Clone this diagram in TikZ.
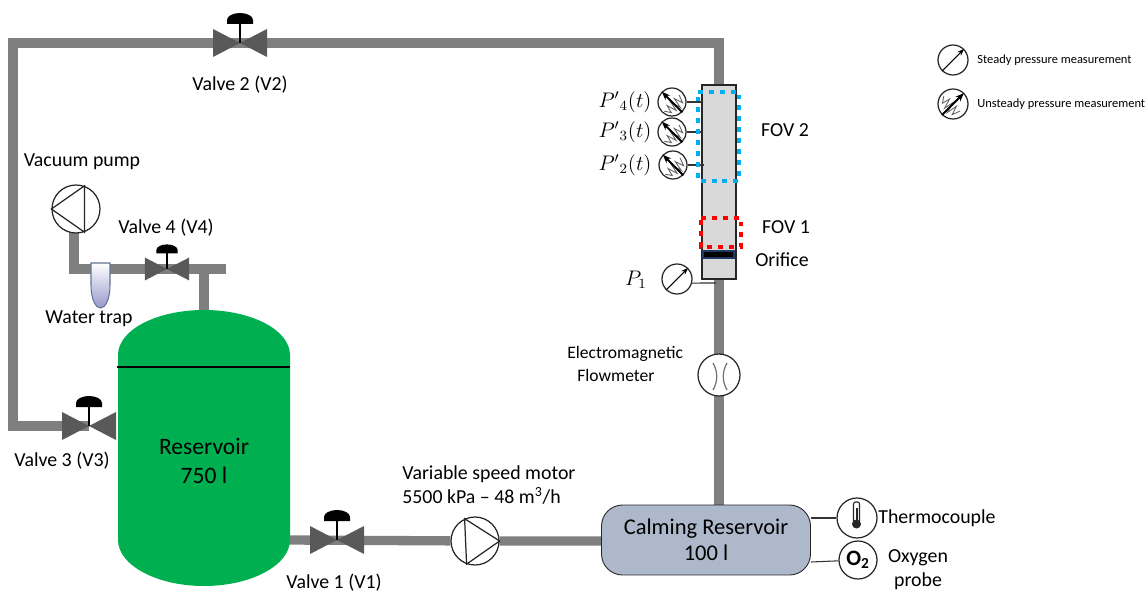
\documentclass[tikz,border=0pt]{standalone}
\usepackage{amsmath}
\usepackage{fontspec}
\setmainfont{Carlito}
\usetikzlibrary{arrows.meta,backgrounds}
\definecolor{pipegray}{HTML}{7F7F7F}
\definecolor{valvegray}{HTML}{595959}
\definecolor{tankgreen}{HTML}{00B050}
\definecolor{calmblue}{HTML}{ADB9CA}
\definecolor{colgray}{HTML}{D9D9D9}
\definecolor{fovblue}{HTML}{00AEEF}
\definecolor{oribord}{HTML}{1F3864}
\tikzset{
    pipe/.style={draw=pipegray, line width=5.3pt},
    tap/.style={draw=black!80, line width=0.6pt},
    label/.style={font=\fontsize{11.3}{13.6}\selectfont, inner sep=0pt, align=center},
    biglabel/.style={font=\fontsize{12.8}{14.7}\selectfont, inner sep=0pt, align=center},
    tanklabel/.style={font=\fontsize{13.4}{16.4}\selectfont, inner sep=0pt, align=center},
    smalllabel/.style={font=\fontsize{7.1}{8}\selectfont, inner sep=0pt, anchor=west},
    mathlabel/.style={font=\fontsize{11.5}{13}\selectfont, inner sep=0pt},
    dial/.style={circle, draw=black!85, fill=white, line width=0.7pt, inner sep=0pt, minimum size=#1*0.02cm},
    fov/.style={line width=2.8pt, dash pattern=on 2.8pt off 3.4pt},
    valve/.pic={
        \fill[valvegray] (-27,-14) -- (0,0) -- (-27,14) -- cycle;
        \fill[valvegray] (27,-14) -- (0,0) -- (27,14) -- cycle;
        \draw[black, line width=0.7pt] (0,0) -- (0,-20);
        \fill[black] (-13,-19) -- (13,-19) -- (13,-23) .. controls (13,-27) and (7,-30) .. (0,-30) .. controls (-7,-30) and (-13,-27) .. (-13,-23) -- cycle;
    },
    spikes/.pic={
        \draw[black!60, line width=0.5pt] (-12,1) -- (-8,7) -- (-6,-1) -- (-3,9) -- (-1,-1) -- (2,10) -- (4,-1) -- (7,8) -- (10,0);
    },
}

\begin{document}
\begin{tikzpicture}[x=0.02cm, y=-0.02cm]
    \useasboundingbox (0,0) rectangle (1148,594);

    \coordinate (cornerTL) at (13,43);
    \coordinate (cornerTR) at (719,43);
    \coordinate (cornerBL) at (13,426);
    \coordinate (cornerVac) at (74,269);
    \coordinate (stub) at (226,269);
    \coordinate (tankTop) at (204,312);
    \coordinate (tankRight) at (288,540);
    \coordinate (vOne) at (337,540);
    \coordinate (vTwo) at (240,43);
    \coordinate (vThree) at (89,426);
    \coordinate (vFour) at (167,269);

    \fill[tankgreen] (118,355) .. controls (118,330) and (156.5,310) .. (204,310) .. controls (251.5,310) and (290,330) .. (290,355) -- (290,540) .. controls (290,565) and (251.5,586) .. (204,586) .. controls (156.5,586) and (118,565) .. (118,540) -- cycle;
    \draw[black, line width=0.9pt] (117,367) -- (290,367);
    \node[tanklabel] (tank) at (204,461) {Reservoir\\750 l};

    \pic at (vOne) {valve};
    \pic at (vTwo) {valve};
    \pic at (vThree) {valve};
    \pic[scale=0.82] at (vFour) {valve};

    \node[dial=48] (pVar) at (475,541) {};
    \draw[black!85, line width=0.7pt] (pVar.115) -- (pVar.0) -- (pVar.-110) -- cycle;
    \node[dial=48] (pVac) at (76,209) {};
    \draw[black!85, line width=0.7pt] (pVac.180) -- (pVac.70) -- (pVac.-70) -- cycle;

    \draw[draw=oribord!70, top color=white, bottom color=blue!35!gray!60, line width=0.6pt] (91,263) -- (110,263) -- (110,285) .. controls (110,300) and (105,308) .. (100.5,308) .. controls (96,308) and (91,300) .. (91,285) -- cycle;

    \node[draw=black!85, fill=calmblue, rounded corners=0.42cm, minimum width=4.18cm, minimum height=1.4cm, line width=0.5pt, biglabel] (calm) at (706,540) {Calming Reservoir\\100 l};

    \node[draw=black!85, fill=colgray, line width=0.8pt, minimum width=0.68cm, minimum height=3.88cm, inner sep=0pt] (col) at (719,182) {};
    \node[draw=oribord, fill=black, line width=0.6pt, minimum width=0.62cm, minimum height=0.14cm, inner sep=0pt] (orifice) at (718.5,254.5) {};

    \node[dial=42] (flow) at (719,375) {};
    \draw[black!55, line width=0.7pt] (713,363) .. controls (718,372) and (718,381) .. (713,390);
    \draw[black!55, line width=0.7pt] (727,363) .. controls (722,372) and (722,381) .. (727,390);

    \node[dial=30] (gOne) at (677,279) {};
    \draw[-{Stealth[length=4pt]}, line width=0.6pt] (gOne.225) -- (gOne.45);
    \node[dial=30] (gLegA) at (953,60) {};
    \draw[-{Stealth[length=4pt]}, line width=0.6pt] (gLegA.225) -- (gLegA.45);
    \node[dial=30] (gLegB) at (953,104) {};
    \pic[rotate=-45] at (gLegB) {spikes};
    \draw[-{Stealth[length=5pt]}, line width=1.1pt] (gLegB.225) -- (gLegB.45);

    \foreach \name/\px/\py/\tx/\txt in {gFour/672/102/702/4, gThree/672/132/702/3, gTwo/673/165/704/2}
    {
        \node[dial=28] (\name) at (\px,\py) {};
        \pic[rotate=45] at (\name) {spikes};
        \draw[-{Stealth[length=5pt]}, line width=1.1pt] (\name.-45) -- (\name.135);
        \coordinate (t\name) at (\tx,\py);
        \draw[tap] (\name.east) -- (t\name);
        \node[mathlabel] (l\name) at (625,\py) {$P'{}_{\txt}(t)$};
    }

    \draw[fov, fovblue] (698,92) -- (739,92) -- (739,181) -- (698,181) -- cycle;
    \draw[fov, red] (701,218) -- (741,218) -- (741,247) -- (701,247) -- cycle;

    \coordinate (tOne) at (716,283);
    \draw[tap] (gOne.-15) -- (tOne);
    \node[mathlabel] (lOne) at (636,280) {$P_1$};

    \node[dial=40] (thermo) at (857,518) {};
    \draw[black!85, line width=0.6pt, rounded corners=0.04cm] (853.5,522) -- (853.5,502) -- (859.5,502) -- (859.5,522);
    \fill[black!85] (856.5,524) circle (4.5);
    \fill[black!85] (855.5,508) rectangle (857.5,522);
    \node[dial=38, font=\bfseries\fontsize{12.5}{14}\selectfont] (oxy) at (858,560) {O\textsubscript{2}};
    \coordinate (calmT) at (811,518);
    \coordinate (calmO) at (811,562);
    \draw[tap] (calmT) -- (thermo);
    \draw[tap] (calmO) -- (oxy);

    \node[label] (lVTwo) at (240,85) {Valve 2 (V2)};
    \node[label] (lVac) at (82,162) {Vacuum pump};
    \node[label] (lVFour) at (166,228) {Valve 4 (V4)};
    \node[label] (lTrap) at (89,319) {Water trap};
    \node[label] (lVThree) at (62,461) {Valve 3 (V3)};
    \node[label] (lVOne) at (334,583) {Valve 1 (V1)};
    \node[label, anchor=west, align=left] (lMotor) at (402,485) {Variable speed motor\\5500 kPa -- 48 m\textsuperscript{3}/h};
    \node[label, anchor=west, align=left, font=\fontsize{10}{13.6}\selectfont] (lFlow) at (567,364) {Electromagnetic\\\hspace*{5.7pt}Flowmeter};
    \node[label] (lFovTwo) at (785,130) {FOV 2};
    \node[label] (lFovOne) at (786,227) {FOV 1};
    \node[label] (lOri) at (782,260) {Orifice};
    \node[label, anchor=west] (lThermo) at (878,518) {Thermocouple};
    \node[label] (lOxy) at (918,570) {Oxygen\\probe};
    \node[smalllabel] (lLegA) at (977,60) {Steady pressure measurement};
    \node[smalllabel] (lLegB) at (977,104) {Unsteady pressure measurement};

    \begin{pgfonlayer}{background}
        \draw[pipe] (vThree) -- (cornerBL) -- (cornerTL) -- (cornerTR) -- (col.north);
        \draw[pipe] (col.south) -- (col.south |- calm.north);
        \draw[pipe] (tankRight) -- (pVar) -- (calm.west |- pVar);
        \draw[pipe] (cornerVac |- pVac) -- (cornerVac) -- (stub);
        \draw[pipe] (tankTop) -- (tankTop |- stub);
    \end{pgfonlayer}
\end{tikzpicture}
\end{document}
